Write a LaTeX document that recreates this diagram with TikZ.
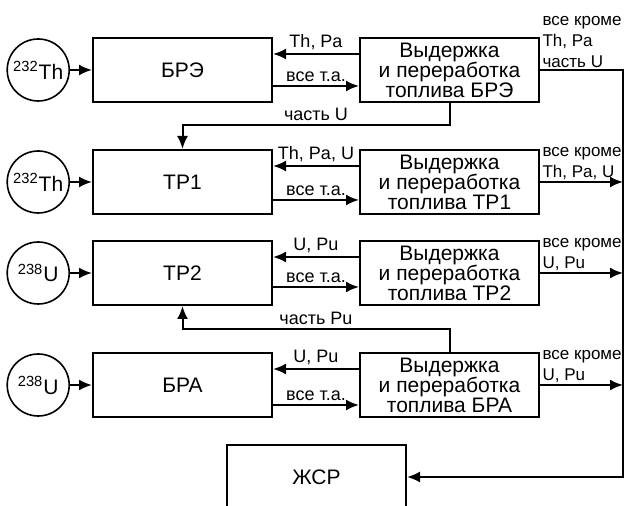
\documentclass[tikz,border=0pt]{standalone}
\usepackage{fontspec}
\setmainfont{Liberation Sans}
\usetikzlibrary{arrows.meta, positioning}
\tikzstyle{reactor} = [rectangle, draw=black, line width=1pt, minimum width=89.5pt, minimum height=32pt, font=\fontsize{10.5}{10}\selectfont]
\tikzstyle{process} = [reactor, align=center, inner sep=0.5pt]
\tikzstyle{source} = [circle, draw=black, line width=0.8pt, minimum size=31pt, inner sep=0pt, font=\fontsize{10.5}{10}\selectfont]
\tikzstyle{arrow} = [line width=1pt, -{Latex[length=6.5pt, width=5.5pt]}]
\tikzstyle{flow} = [font=\fontsize{9}{10.5}\selectfont, inner sep=1.5pt]
\tikzstyle{rest} = [font=\fontsize{8.5}{10.5}\selectfont, inner sep=0.8pt, pos=0, above right, align=left]

\begin{document}
\begin{tikzpicture}[x=0.5pt, y=-0.5pt]
  \useasboundingbox (0,0) rectangle (625,506);
  \node[reactor] (bre) at (182.5,70) {БРЭ};
  \node[reactor, below=23pt of bre] (tr1) {ТР1};
  \node[reactor, below=12.5pt of tr1] (tr2) {ТР2};
  \node[reactor, below=23pt of tr2] (bra) {БРА};
  \node[reactor] (zhsr) at (316.5,477) {ЖСР};

  \node[source, left=11pt of bre] (th1) {\textsuperscript{232}Th};
  \node[source, left=11pt of tr1] (th2) {\textsuperscript{232}Th};
  \node[source, left=11pt of tr2] (u1) {\textsuperscript{238}U};
  \node[source, left=11pt of bra] (u2) {\textsuperscript{238}U};

  \node[process, right=43pt of bre] (pbre) {Выдержка\\и переработка\\топлива БРЭ};
  \node[process, right=43pt of tr1] (ptr1) {Выдержка\\и переработка\\топлива ТР1};
  \node[process, right=43pt of tr2] (ptr2) {Выдержка\\и переработка\\топлива ТР2};
  \node[process, right=43pt of bra] (pbra) {Выдержка\\и переработка\\топлива БРА};
  \coordinate (rail) at (623,69);

  \draw[arrow] (th1) -- (bre);
  \draw[arrow] (th2) -- (tr1);
  \draw[arrow] (u1) -- (tr2);
  \draw[arrow] (u2) -- (bra);

  \draw[arrow] ([yshift=8pt]pbre.west) -- node[flow, above]{Th, Pa} ([yshift=8pt]bre.east);
  \draw[arrow] ([yshift=-8pt]bre.east) -- node[flow, above]{все т.а.} ([yshift=-8pt]pbre.west);
  \draw[arrow] ([yshift=8pt]ptr1.west) -- node[flow, above]{Th, Pa, U} ([yshift=8pt]tr1.east);
  \draw[arrow] ([yshift=-9pt]tr1.east) -- node[flow, above]{все т.а.} ([yshift=-9pt]ptr1.west);
  \draw[arrow] ([yshift=8pt]ptr2.west) -- node[flow, above]{U, Pu} ([yshift=8pt]tr2.east);
  \draw[arrow] ([yshift=-7pt]tr2.east) -- node[flow, above]{все т.а.} ([yshift=-7pt]ptr2.west);
  \draw[arrow] ([yshift=8pt]pbra.west) -- node[flow, above]{U, Pu} ([yshift=8pt]bra.east);
  \draw[arrow] ([yshift=-10pt]bra.east) -- node[flow, above]{все т.а.} ([yshift=-10pt]pbra.west);

  \draw[arrow] (pbre.south) -- ++(0,-11pt) -| node[flow, above, pos=0.25]{часть U} (tr1.north);
  \draw[arrow] (pbra.north) -- ++(0,11.5pt) -| node[flow, above, pos=0.25]{часть Pu} (tr2.south);

  \draw[arrow] (pbre.east) -- node[rest]{все кроме\\Th, Pa\\часть U} (pbre.east -| rail) |- (zhsr.east);
  \draw[arrow] (ptr1.east) -- node[rest]{все кроме\\Th, Pa, U} (ptr1.east -| rail);
  \draw[arrow] (ptr2.east) -- node[rest]{все кроме\\U, Pu} (ptr2.east -| rail);
  \draw[arrow] (pbra.east) -- node[rest]{все кроме\\U, Pu} (pbra.east -| rail);
\end{tikzpicture}
\end{document}
